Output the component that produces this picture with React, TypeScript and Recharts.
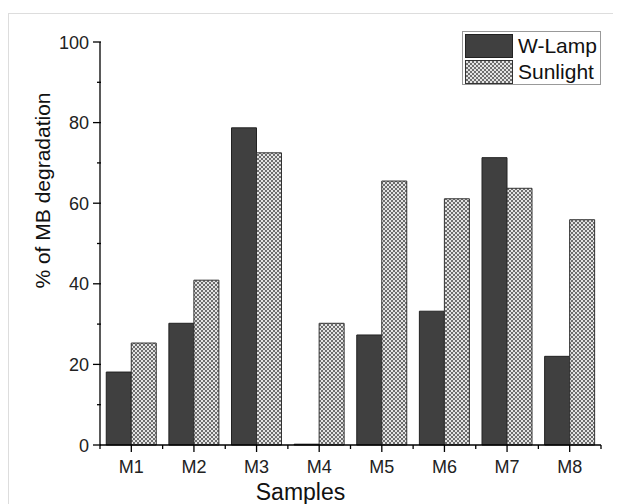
import { BarChart, Bar, XAxis, YAxis } from 'recharts'

const samples = ['M1', 'M2', 'M3', 'M4', 'M5', 'M6', 'M7', 'M8']
const wLamp = [18.1, 30.2, 78.7, 0.2, 27.3, 33.2, 71.3, 22.0]
const sunlight = [25.3, 40.9, 72.5, 30.2, 65.5, 61.1, 63.7, 55.9]
const yTicks = [0, 10, 20, 30, 40, 50, 60, 70, 80, 90, 100]

const data = samples.map((s, i) => ({ sample: s, wLamp: wLamp[i], sunlight: sunlight[i] }))

const W = 611
const H = 490
const margin = { top: 28, right: 19, left: 31, bottom: 24 }
const yAxisW = 60
const plotW = W - margin.left - margin.right - yAxisW
const band = plotW / samples.length
const font = 'Arial, "Liberation Sans", sans-serif'

const YTick = (props: any) => {
  const { x, y, payload } = props
  const major = payload.value % 20 === 0
  return (
    <g>
      <line x1={x + 9} x2={x + 9 - (major ? 8 : 4)} y1={y} y2={y} stroke="#000" strokeWidth={1.3} />
      {major && (
        <text x={x - 3} y={y} dy={6.5} textAnchor="end" fontSize={18} fill="#222" fontFamily={font}>
          {payload.value}
        </text>
      )}
    </g>
  )
}

const XTick = (props: any) => {
  const { x, y, payload, index } = props
  const last = index === samples.length - 1
  return (
    <g>
      <line x1={x} x2={x} y1={y - 8} y2={y - 1} stroke="#000" strokeWidth={1.3} />
      <line x1={x - band / 2} x2={x - band / 2} y1={y - 8} y2={y - 4} stroke="#000" strokeWidth={1.3} />
      {last && <line x1={x + band / 2} x2={x + band / 2} y1={y - 8} y2={y - 4} stroke="#000" strokeWidth={1.3} />}
      <text x={x} y={y + 20} textAnchor="middle" fontSize={18} fill="#222" fontFamily={font}>
        {payload.value}
      </text>
    </g>
  )
}

const YTitle = (props: any) => {
  const { viewBox } = props
  const cx = viewBox.x + 3
  const cy = viewBox.y + viewBox.height / 2 - 53
  return (
    <text x={cx} y={cy} transform={`rotate(-90 ${cx} ${cy})`} textAnchor="middle" dy={7} fontSize={21} fill="#111" fontFamily={font}>
      % of MB degradation
    </text>
  )
}

const XTitle = (props: any) => {
  const { viewBox } = props
  const cx = viewBox.x + viewBox.width / 2 - 50
  return (
    <text x={cx} y={viewBox.y + 55} textAnchor="middle" fontSize={23} fill="#111" fontFamily={font}>
      Samples
    </text>
  )
}

const LegendBox = () => (
  <svg width={139} height={55} style={{ display: 'block', position: 'absolute', top: 17, left: 453 }}>
    <rect x={0.5} y={0.5} width={138} height={53} fill="#fff" stroke="#999" />
    <rect x={3.5} y={3.5} width={47} height={23} fill="#404040" stroke="#222" />
    <rect x={3.5} y={29.5} width={47} height={23} fill="url(#cross)" stroke="#333" />
    <text x={56} y={22} fontSize={21} fill="#111" fontFamily={font}>W-Lamp</text>
    <text x={56} y={48} fontSize={21} fill="#111" fontFamily={font}>Sunlight</text>
  </svg>
)

export default function App() {
  return (
    <div style={{ marginTop: 5, borderTop: '1px solid #ddd', borderLeft: '1px solid #ddd', width: 612, height: 492, position: 'relative' }}>
      <BarChart width={W} height={H} data={data} margin={margin} barGap={0} barCategoryGap="10%">
        <defs>
          <pattern id="cross" width={4} height={4} patternUnits="userSpaceOnUse">
            <rect width={4} height={4} fill="#e4e4e4" />
            <rect width={2} height={2} fill="#6e6e6e" />
            <rect x={2} y={2} width={2} height={2} fill="#6e6e6e" />
          </pattern>
        </defs>
        <XAxis
          dataKey="sample"
          tick={<XTick />}
          tickLine={false}
          axisLine={{ stroke: '#000', strokeWidth: 1.3 }}
          height={35}
          interval={0}
          label={<XTitle />}
        />
        <YAxis
          domain={[0, 100]}
          ticks={yTicks}
          interval={0}
          tick={<YTick />}
          tickLine={false}
          width={yAxisW}
          axisLine={{ stroke: '#000', strokeWidth: 1.3 }}
          label={<YTitle />}
        />
        <Bar dataKey="wLamp" name="W-Lamp" fill="#404040" stroke="#222" strokeWidth={1} isAnimationActive={false} />
        <Bar dataKey="sunlight" name="Sunlight" fill="url(#cross)" stroke="#333" strokeWidth={1} isAnimationActive={false} />
      </BarChart>
      <LegendBox />
    </div>
  )
}
